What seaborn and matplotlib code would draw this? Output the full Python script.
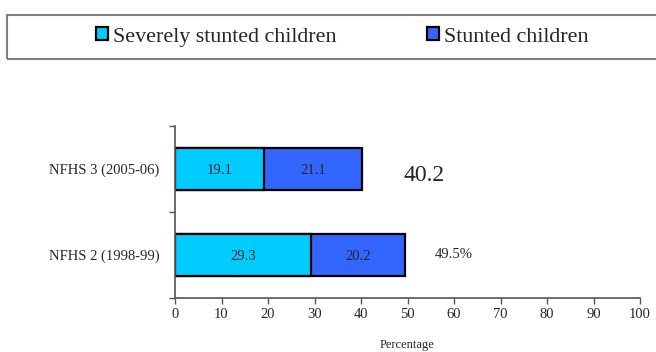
import matplotlib
matplotlib.use("Agg")
import matplotlib.pyplot as plt
from matplotlib.patches import Patch, Rectangle
import seaborn as sns
import pandas as pd

# Survey rounds and stunting shares (percent of children)
surveys = ["NFHS 3 (2005-06)", "NFHS 2 (1998-99)"]
severely_stunted = [19.1, 29.3]
stunted = [21.1, 20.2]
total_formats = ["{:.1f}", "{:.1f}%"]
series_names = ["Severely stunted children", "Stunted children"]
x_ticks = [0, 10, 20, 30, 40, 50, 60, 70, 80, 90, 100]

CYAN = "#00CCFF"
BLUE = "#3366FF"

sns.set_style("ticks")
plt.rcParams["font.family"] = ["Liberation Serif", "DejaVu Serif"]

df = pd.DataFrame({
    "survey": surveys,
    "severe": severely_stunted,
    "stunted": stunted,
})
df["total"] = df["severe"] + df["stunted"]

fig = plt.figure(figsize=(6.56, 3.52), dpi=100)
ax = fig.add_axes([175 / 656, 1 - 298 / 352, (640 - 175) / 656, (298 - 126) / 352])

# Stacked bars: full total in blue underneath, severe share in cyan on top
sns.barplot(data=df, x="total", y="survey", orient="h", color=BLUE,
            width=0.48, edgecolor="black", linewidth=1.6, errorbar=None,
            saturation=1, ax=ax)
sns.barplot(data=df, x="severe", y="survey", orient="h", color=CYAN,
            width=0.48, edgecolor="black", linewidth=1.6, errorbar=None,
            saturation=1, ax=ax)

# Segment values centred in each part of the bar
for i, row in df.iterrows():
    ax.text(row["severe"] / 2, i + 0.02, f"{row['severe']:.1f}", ha="center",
            va="center", fontsize=10.5)
    ax.text(row["severe"] + row["stunted"] / 2, i + 0.02,
            f"{row['stunted']:.1f}", ha="center", va="center", fontsize=10.5)

# Totals beside each bar
ax.text(df["total"][0] + 13.3, 0.07, total_formats[0].format(df["total"][0]),
        ha="center", va="center", fontsize=17)
ax.text(df["total"][1] + 10.5, 1.0, total_formats[1].format(df["total"][1]),
        ha="center", va="center", fontsize=10.5)

ax.set_xlim(0, 100)
ax.set_ylim(1.5, -0.5)
ax.set_xticks(x_ticks)
ax.set_xlabel("Percentage", fontsize=9, labelpad=13)
ax.set_ylabel("")

ax.set_yticks([0, 1])
ax.set_yticklabels(surveys, fontsize=10.5)
ax.set_yticks([-0.5, 0.5, 1.5], minor=True)
ax.tick_params(axis="y", which="major", length=0, pad=11)
ax.tick_params(axis="y", which="minor", length=4, width=1, color="#555555")
ax.tick_params(axis="x", length=4, width=1, color="#555555", labelsize=10.5, pad=3)

sns.despine(ax=ax)
for side in ("left", "bottom"):
    ax.spines[side].set_color("#555555")
    ax.spines[side].set_linewidth(1.2)

# Legend in a framed band across the top of the figure
fig.patches.append(Rectangle((7 / 656, 1 - 59 / 352), 0.995, 44 / 352,
                             transform=fig.transFigure, fill=False,
                             edgecolor="#808080", linewidth=1.5))
handles = [Patch(facecolor=CYAN, edgecolor="black", linewidth=1.6),
           Patch(facecolor=BLUE, edgecolor="black", linewidth=1.6)]
fig.legend(handles, series_names, loc="center", bbox_to_anchor=(0.522, 0.895),
           ncol=2, frameon=False, fontsize=15.8, handlelength=0.55,
           handleheight=0.55, handletextpad=0.25, columnspacing=4.1,
           borderpad=0)

fig.savefig("out.png", dpi=100)
